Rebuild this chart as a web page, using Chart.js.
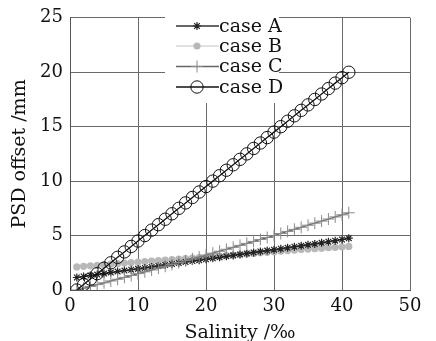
<!DOCTYPE html>
<html lang="en">
<head>
    <meta charset="UTF-8">
    <title>PSD offset vs salinity</title>
    <script src="https://cdn.jsdelivr.net/npm/chart.js"></script>
    <style>
        html, body { margin: 0; padding: 0; background: #fff; }
        #wrap { width: 436px; height: 341px; }
    </style>
</head>
<body>
<div id="wrap"><canvas id="psdChart" width="436" height="341"></canvas></div>
<script>
// salinity steps (‰)
const salinity = [1,2,3,4,5,6,7,8,9,10,11,12,13,14,15,16,17,18,19,20,21,22,23,24,25,26,27,28,29,30,31,32,33,34,35,36,37,38,39,40,41];

// PSD offset (mm)
const caseA = [1.15,1.24,1.33,1.42,1.51,1.60,1.69,1.78,1.86,1.94,2.03,2.12,2.21,2.30,2.39,2.48,2.57,2.66,2.74,2.82,2.91,3.00,3.09,3.18,3.27,3.36,3.45,3.54,3.62,3.70,3.79,3.88,3.97,4.06,4.15,4.23,4.33,4.43,4.53,4.64,4.76];
const caseB = [2.12,2.17,2.22,2.27,2.32,2.37,2.42,2.47,2.52,2.57,2.61,2.66,2.70,2.75,2.79,2.84,2.88,2.93,2.97,3.02,3.06,3.11,3.16,3.21,3.26,3.31,3.36,3.41,3.46,3.52,3.57,3.62,3.67,3.71,3.76,3.80,3.84,3.88,3.92,3.96,4.00];
const caseC = [0.00,0.16,0.33,0.49,0.66,0.83,0.99,1.16,1.33,1.50,1.67,1.84,2.01,2.18,2.35,2.52,2.69,2.86,3.03,3.20,3.38,3.56,3.74,3.92,4.10,4.28,4.46,4.64,4.82,5.00,5.19,5.38,5.57,5.76,5.95,6.14,6.33,6.52,6.71,6.90,7.09];
const caseD = [0.0,0.5,1.0,1.5,2.0,2.5,3.0,3.5,4.0,4.5,5.0,5.5,6.0,6.5,7.0,7.5,8.0,8.5,9.0,9.5,10.0,10.5,11.0,11.5,12.0,12.5,13.0,13.5,14.0,14.5,15.0,15.5,16.0,16.5,17.0,17.5,18.0,18.5,19.0,19.5,20.0];

const seriesNames = ['case A', 'case B', 'case C', 'case D'];
const xTicks = [0, 10, 20, 30, 40, 50];
const yTicks = [0, 5, 10, 15, 20, 25];

const serif = "'DejaVu Serif', serif";
const toPoints = vals => vals.map((v, i) => ({ x: salinity[i], y: v }));

const styles = [
    { line: '#333', width: 1.4, point: 'star',   radius: 4,   fill: '#333',  stroke: '#222', bw: 1.2 },
    { line: '#c4c4c4', width: 1, point: 'circle', radius: 3.6, fill: '#b8b8b8', stroke: '#b8b8b8', bw: 0 },
    { line: '#666', width: 1.3, point: 'cross',  radius: 6,   fill: '#888',  stroke: '#8a8a8a', bw: 1 },
    { line: '#111', width: 1.3, point: 'circle', radius: 6.2, fill: 'rgba(255,255,255,0)', stroke: '#111', bw: 1 }
];

const datasets = [caseA, caseB, caseC, caseD].map((vals, i) => ({
    label: seriesNames[i],
    data: toPoints(vals),
    borderColor: styles[i].line,
    borderWidth: styles[i].width,
    pointStyle: styles[i].point,
    pointRadius: styles[i].radius,
    pointBackgroundColor: styles[i].fill,
    pointBorderColor: styles[i].stroke,
    pointBorderWidth: styles[i].bw,
    tension: 0,
    order: [2, 3, 1, 0][i]
}));

// legend with white box sitting inside the plot
const boxLegend = {
    id: 'boxLegend',
    afterDraw(chart) {
        const ctx = chart.ctx;
        ctx.save();
        ctx.fillStyle = '#fff';
        ctx.fillRect(165, 15, 114, 88);
        const rows = [26, 46, 66.5, 87];
        rows.forEach((y, i) => {
            const s = styles[i];
            ctx.strokeStyle = s.line;
            ctx.lineWidth = s.width;
            ctx.beginPath();
            ctx.moveTo(176, y);
            ctx.lineTo(219, y);
            ctx.stroke();
            ctx.fillStyle = s.fill;
            ctx.strokeStyle = s.stroke;
            ctx.lineWidth = s.bw;
            Chart.helpers.drawPoint(ctx, { pointStyle: s.point, radius: s.radius, borderWidth: s.bw }, 197, y);
            ctx.fillStyle = '#111';
            ctx.font = '19px ' + serif;
            ctx.textBaseline = 'middle';
            ctx.textAlign = 'left';
            ctx.fillText(seriesNames[i], 219, y + 1);
        });
        ctx.restore();
    }
};

new Chart(document.getElementById('psdChart'), {
    type: 'line',
    data: { datasets },
    options: {
        responsive: false,
        animation: false,
        layout: { padding: { top: 14, right: 26, left: 0, bottom: 0 } },
        plugins: { legend: { display: false }, tooltip: { enabled: false } },
        scales: {
            x: {
                type: 'linear',
                min: 0, max: 50,
                afterBuildTicks: s => { s.ticks = xTicks.map(v => ({ value: v })); },
                afterFit: s => { s.height = 51; },
                grid: { color: '#6a6a6a', lineWidth: 1, drawTicks: false },
                border: { color: '#555', width: 1 },
                ticks: { color: '#111', font: { family: serif, size: 18 }, padding: 6, maxRotation: 0 },
                title: { display: true, text: 'Salinity /‰', color: '#111', font: { family: serif, size: 19 }, padding: { top: 0, bottom: -3 } }
            },
            y: {
                min: 0, max: 25,
                afterBuildTicks: s => { s.ticks = yTicks.map(v => ({ value: v })); },
                afterFit: s => { s.width = 70; },
                grid: { color: '#6a6a6a', lineWidth: 1, drawTicks: false },
                border: { color: '#555', width: 1 },
                ticks: { color: '#111', font: { family: serif, size: 18 }, padding: 7 },
                title: { display: true, text: 'PSD offset /mm', color: '#111', font: { family: serif, size: 19 }, padding: { top: 9, bottom: 0 } }
            }
        }
    },
    plugins: [boxLegend]
});
</script>
</body>
</html>
